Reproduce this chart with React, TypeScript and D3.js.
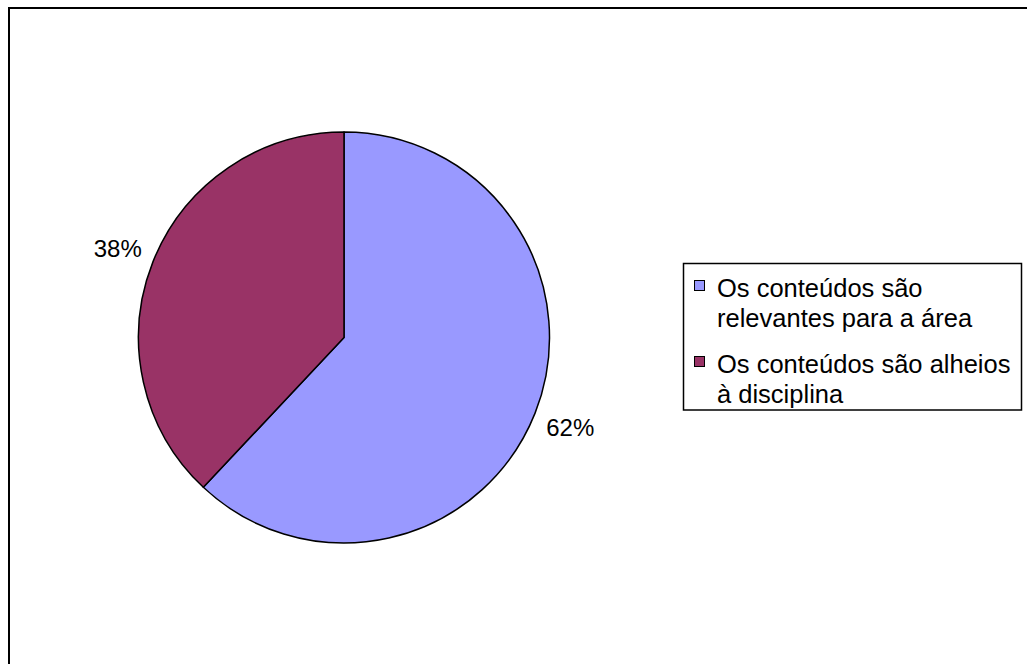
import React from "react";
import * as d3 from "d3";

const categories = [
  "Os conteúdos são relevantes para a área",
  "Os conteúdos são alheios à disciplina",
];
const values = [62, 38];
const legendLines = [
  ["Os conteúdos são", "relevantes para a área"],
  ["Os conteúdos são alheios", "à disciplina"],
];
const colors = ["#9999FF", "#993366"];

const W = 1027;
const H = 664;
const cx = 344;
const cy = 337.5;
const R = 205.5;
const FONT = "'Liberation Sans', Arial, sans-serif";

export default function App() {
  const pie = d3.pie<number>().sort(null).value((d) => d);
  const arcs = pie(values);
  const arcGen = d3.arc<d3.PieArcDatum<number>>().innerRadius(0).outerRadius(R);
  const total = d3.sum(values);

  const legendX = 683.5;
  const legendY = 263.5;
  const legendW = 338;
  const legendH = 146.5;

  return (
    <svg
      width={W}
      height={H}
      style={{ position: "absolute", left: 0, top: 0, background: "#fff" }}
      fontFamily={FONT}
    >
      <rect x={0} y={0} width={W} height={H} fill="#fff" />
      <rect x={9} y={8} width={W + 20} height={H + 20} fill="none" stroke="#000" strokeWidth={2} />
      <g transform={`translate(${cx},${cy})`}>
        {arcs.map((a, i) => (
          <path key={i} d={arcGen(a) || ""} fill={colors[i]} stroke="#000" strokeWidth={1.5} strokeLinejoin="round" />
        ))}
        {arcs.map((a, i) => {
          const mid = (a.startAngle + a.endAngle) / 2;
          const lr = R + 12;
          const x = lr * Math.sin(mid);
          const y = -lr * Math.cos(mid);
          const anchor = Math.sin(mid) >= 0 ? "start" : "end";
          const yy = Math.cos(mid) >= 0 ? y : y + 18;
          return (
            <text key={i} x={x} y={yy} textAnchor={anchor} fontSize={24} fill="#000">
              {Math.round((values[i] / total) * 100)}%
            </text>
          );
        })}
      </g>
      <rect x={legendX} y={legendY} width={legendW} height={legendH} fill="#fff" stroke="#000" strokeWidth={1.5} />
      {categories.map((c, i) => {
        const baseY = 297 + i * 76;
        return (
          <g key={c}>
            <rect x={694.5} y={baseY - 16.5 } width={10} height={10} fill={colors[i]} stroke="#000" strokeWidth={1} />
            {legendLines[i].map((ln, j) => (
              <text key={j} x={717} y={baseY + j * 30} fontSize={25.5} fill="#000">
                {ln}
              </text>
            ))}
          </g>
        );
      })}
    </svg>
  );
}
